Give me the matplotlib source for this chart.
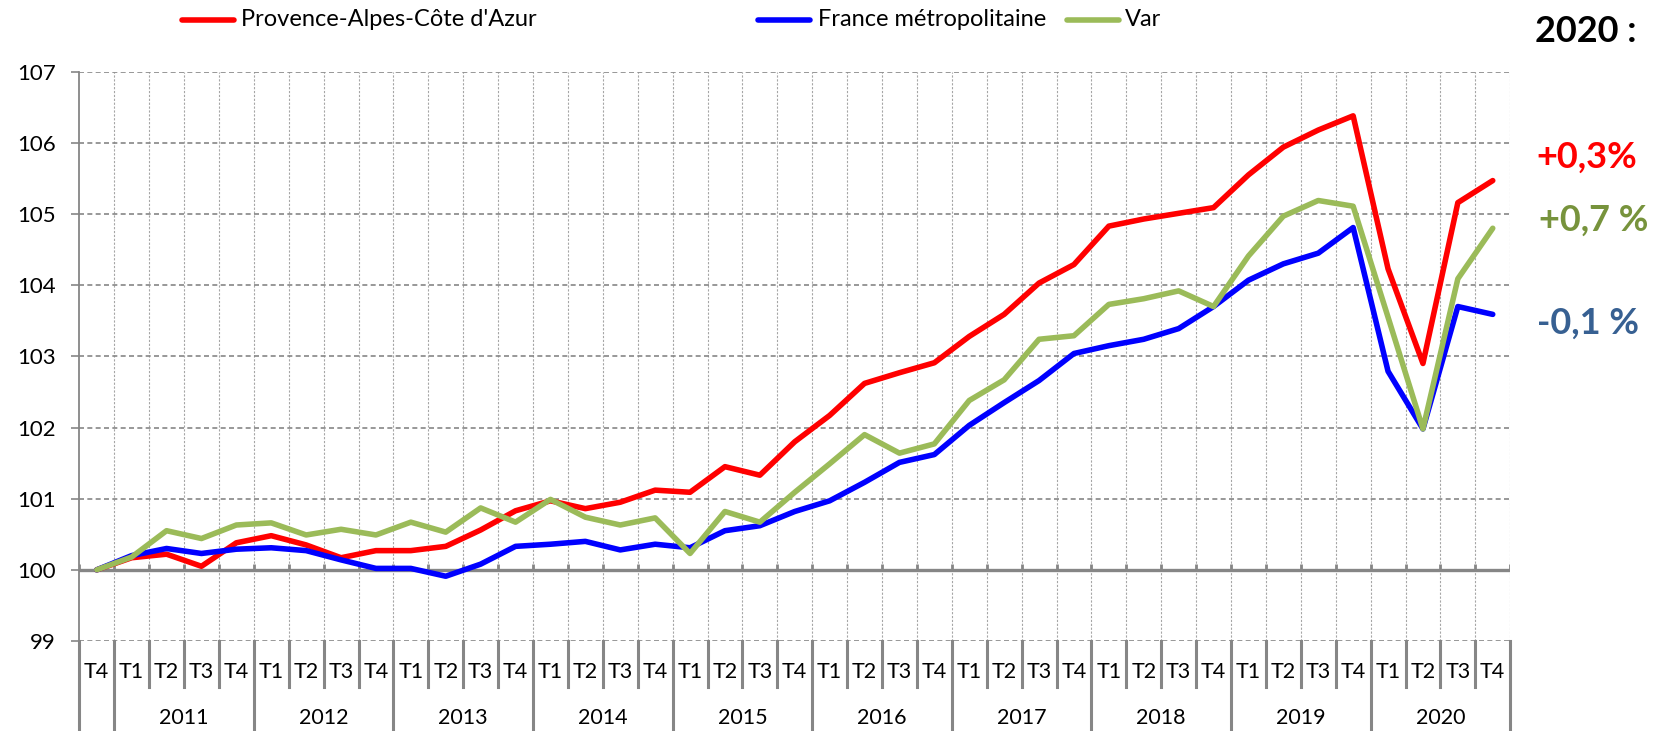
import matplotlib
matplotlib.use("Agg")
import matplotlib.pyplot as plt
from matplotlib.lines import Line2D

plt.rcParams['font.family'] = ['Lato', 'DejaVu Sans']

# categories: T4 2010 then every quarter 2011-2020
quarters = ["T4"] + ["T1", "T2", "T3", "T4"] * 10
years = [str(y) for y in range(2011, 2021)]

paca = [100.00, 100.17, 100.22, 100.05, 100.38, 100.48, 100.35, 100.17, 100.27, 100.27,
        100.33, 100.56, 100.83, 100.97, 100.86, 100.95, 101.12, 101.09, 101.45, 101.33,
        101.80, 102.17, 102.62, 102.77, 102.91, 103.28, 103.59, 104.03, 104.29, 104.83,
        104.93, 105.01, 105.09, 105.55, 105.94, 106.18, 106.38, 104.23, 102.90, 105.16,
        105.47]
france = [100.00, 100.20, 100.30, 100.23, 100.29, 100.31, 100.27, 100.14, 100.02, 100.02,
          99.91, 100.08, 100.33, 100.36, 100.40, 100.28, 100.36, 100.31, 100.55, 100.62,
          100.82, 100.97, 101.23, 101.51, 101.62, 102.03, 102.35, 102.66, 103.04, 103.15,
          103.24, 103.39, 103.70, 104.07, 104.30, 104.45, 104.81, 102.79, 101.98, 103.70,
          103.59]
var = [100.00, 100.18, 100.55, 100.44, 100.63, 100.66, 100.49, 100.57, 100.49, 100.67,
       100.53, 100.87, 100.67, 100.99, 100.74, 100.63, 100.73, 100.23, 100.82, 100.67,
       101.09, 101.49, 101.90, 101.64, 101.77, 102.38, 102.67, 103.24, 103.29, 103.73,
       103.81, 103.92, 103.70, 104.41, 104.97, 105.19, 105.11, 103.55, 101.98, 104.09,
       104.80]

names = ["Provence-Alpes-Côte d'Azur", "France métropolitaine", "Var"]
colors = ["#FF0000", "#0000FF", "#9BBB59"]

W, H = 1656, 731
GRID = "#868686"

fig = plt.figure(figsize=(W / 100, H / 100), dpi=100)
ax = fig.add_axes([79.3 / W, (H - 641) / H, (1510.2 - 79.3) / W, (641 - 71.7) / H])

n = len(quarters)
xs = list(range(n))
bounds = [i - 0.5 for i in range(n + 1)]

ax.set_xlim(-0.5, n - 0.5)
ax.set_ylim(99, 107)

# grid
for yv in range(99, 108):
    if yv != 100:
        ax.axhline(yv, color=GRID, lw=1.2, ls=(0, (3, 2)), zorder=1)
for b in bounds[1:]:
    ax.axvline(b, color="#A6A6A6", lw=0.8, ls=(0, (2, 1.5)), zorder=0.5)

# category axis crossing at 100
ax.axhline(100, color=GRID, lw=2.4, zorder=2)
ax.vlines(bounds, 100, 100 + 6 / 71.2, color=GRID, lw=2.0, zorder=2)

for vals, c in zip([paca, france, var], colors):
    ax.plot(xs, vals, color=c, lw=4, zorder=3, solid_capstyle="round")

for s in ["top", "right", "bottom"]:
    ax.spines[s].set_visible(False)
ax.spines["left"].set_color(GRID)
ax.spines["left"].set_linewidth(1.3)
ax.set_xticks([])
ax.set_yticks(range(99, 108))
ax.tick_params(axis="y", length=6, width=1.2, color=GRID, pad=11, labelsize=16)

# label table under the plot
year_bounds = [-0.5] + [0.5 + 4 * k for k in range(len(years) + 1)]
for b in bounds:
    bottom = 97.7 if b in year_bounds else 98.36
    ax.plot([b, b], [99, bottom], color=GRID, lw=2.2, clip_on=False, zorder=2)
for i, q in enumerate(quarters):
    ax.text(i, 98.57, q, ha="center", va="center", fontsize=15.5, clip_on=False)
for k, y in enumerate(years):
    ax.text(4 * k + 2.5, 97.92, y, ha="center", va="center", fontsize=15.5, clip_on=False)

# legend
leg_pos = [(182, 241), (758, 818), (1067, 1125)]
for (x0, xt), name, c in zip(leg_pos, names, colors):
    yy = 1 - 20 / H
    fig.add_artist(Line2D([x0 / W, (x0 + 52) / W], [yy, yy], color=c, lw=4,
                          solid_capstyle="round"))
    fig.text(xt / W, yy, name, va="center", ha="left", fontsize=17)

# annotations
fig.text(1535 / W, 1 - 32 / H, "2020 :", fontsize=26, fontweight="bold", va="center")
fig.text(1536 / W, 1 - 157 / H, "+0,3%", fontsize=26, fontweight="bold",
         color="#FF0000", va="center")
fig.text(1539 / W, 1 - 220 / H, "+0,7 %", fontsize=26, fontweight="bold",
         color="#77933C", va="center")
fig.text(1537 / W, 1 - 323 / H, "-0,1 %", fontsize=26, fontweight="bold",
         color="#376092", va="center")

fig.savefig("out.png", dpi=100)
